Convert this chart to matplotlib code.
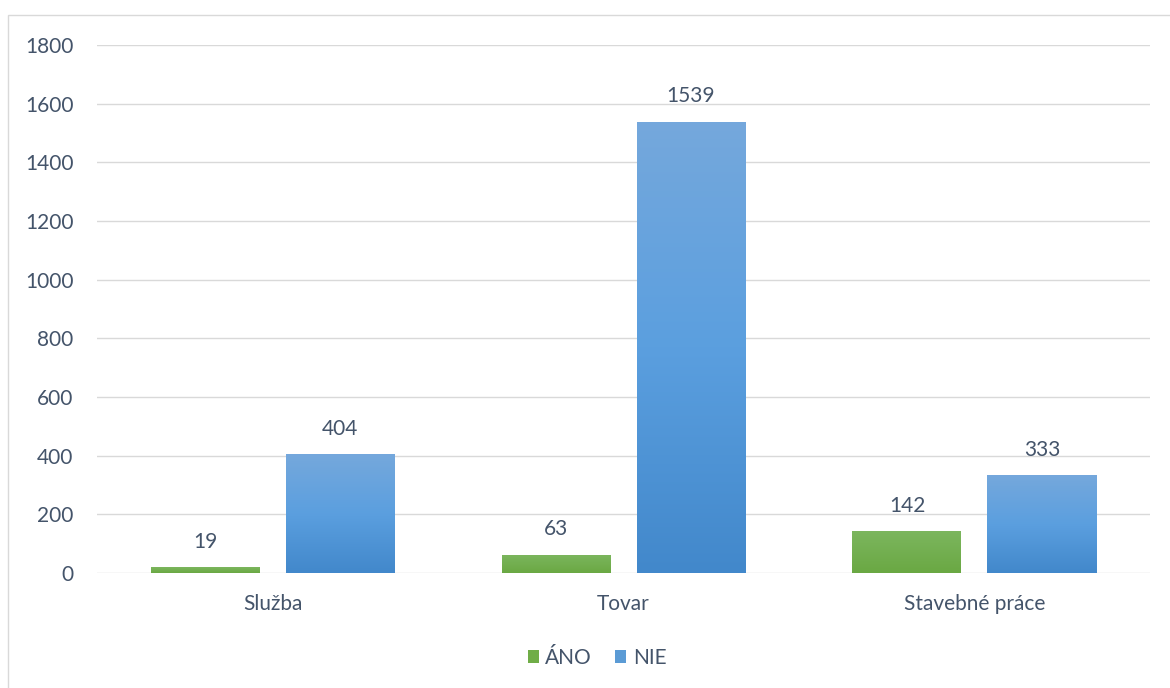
import numpy as np
import matplotlib.pyplot as plt
from matplotlib.patches import Rectangle
from matplotlib.colors import LinearSegmentedColormap

categories = ["Služba", "Tovar", "Stavebné práce"]
series_names = ["ÁNO", "NIE"]
ano_values = [19, 63, 142]
nie_values = [404, 1539, 333]
y_ticks = [0, 200, 400, 600, 800, 1000, 1200, 1400, 1600, 1800]

text_color = "#44546A"
grid_color = "#D9D9D9"
font = "Lato"
fs = 15

W, H = 1170, 688
fig = plt.figure(figsize=(W / 100, H / 100), dpi=100)
fig.patch.set_facecolor("white")

# Outer chart border (extends past right/bottom edges)
fig.patches.append(Rectangle((8 / W, -0.05), 1.2, 1 - 15 / H + 0.05,
                             transform=fig.transFigure, fill=False,
                             edgecolor="#D9D9D9", linewidth=1.0))

ax = fig.add_axes([97 / W, 1 - 573 / H, (1150 - 97) / W, (573 - 45) / H])
ax.set_xlim(0, 3)
ax.set_ylim(0, 1800)
for s in ax.spines.values():
    s.set_visible(False)
ax.set_yticks(y_ticks)
ax.set_yticklabels([str(t) for t in y_ticks], fontsize=fs, color=text_color, family=font)
ax.tick_params(axis="y", length=0, pad=17)
ax.set_xticks([0.5, 1.5, 2.5])
ax.set_xticklabels(categories, fontsize=fs, color=text_color, family=font)
ax.tick_params(axis="x", length=0, pad=15)
for t in y_ticks:
    ax.axhline(t, color=grid_color, linewidth=1.0, zorder=0)

green_cmap = LinearSegmentedColormap.from_list("g", ["#6AA843", "#7CB65E"])
blue_cmap = LinearSegmentedColormap.from_list("b", ["#4288CB", "#5B9FDF", "#75A8DC"])

bar_w = 109 / 351
gap = 26 / 351
grad = np.linspace(0, 1, 256).reshape(-1, 1)

def gradient_bar(x0, h, cmap):
    rect = Rectangle((x0, 0), bar_w, h, facecolor="none", edgecolor="none")
    ax.add_patch(rect)
    im = ax.imshow(grad, cmap=cmap, aspect="auto", origin="lower",
                   extent=(x0, x0 + bar_w, 0, h), zorder=2, interpolation="bilinear")
    im.set_clip_path(rect)

for i in range(len(categories)):
    left = i + 0.5 - bar_w - gap / 2
    gradient_bar(left, ano_values[i], green_cmap)
    gradient_bar(left + bar_w + gap, nie_values[i], blue_cmap)
    ax.text(left + bar_w / 2, ano_values[i] + 52, str(ano_values[i]), ha="center",
            va="bottom", fontsize=fs, color=text_color, family=font)
    ax.text(left + 1.5 * bar_w + gap, nie_values[i] + 52, str(nie_values[i]), ha="center",
            va="bottom", fontsize=fs, color=text_color, family=font)

ax.set_xlim(0, 3)
ax.set_ylim(0, 1800)

# Legend
handles = [Rectangle((0, 0), 1, 1, facecolor="#70AD47"), Rectangle((0, 0), 1, 1, facecolor="#5B9BD5")]
fig.legend(handles, series_names, loc="center", bbox_to_anchor=(597 / W, 1 - 658 / H),
           ncol=2, frameon=False, handlelength=0.55, handleheight=0.55, handletextpad=0.3,
           columnspacing=1.1, prop={"family": font, "size": fs}, labelcolor=text_color)

fig.savefig("out.png", dpi=100, facecolor="white")
